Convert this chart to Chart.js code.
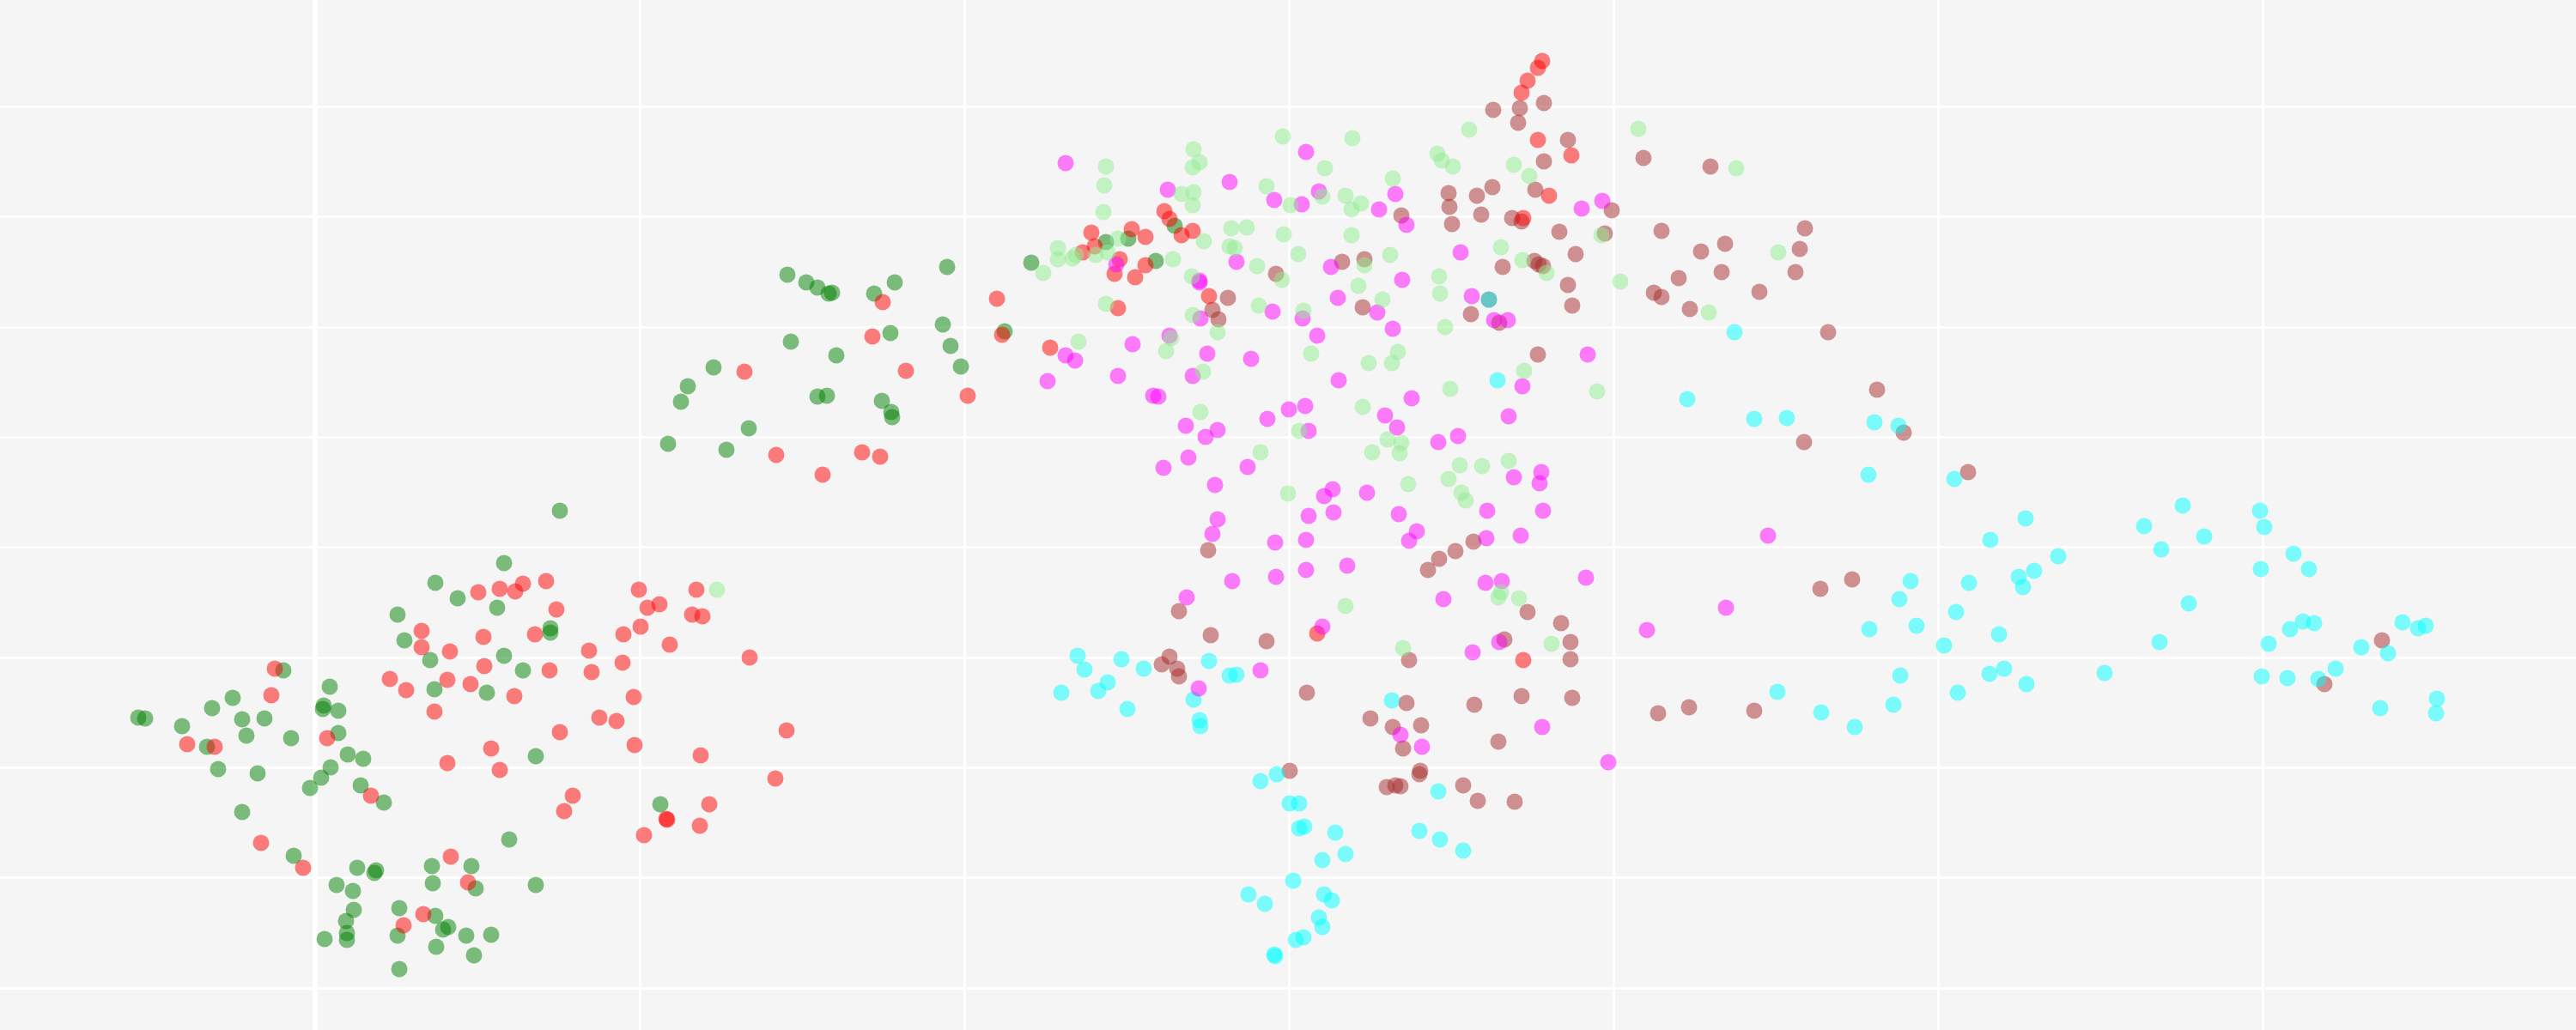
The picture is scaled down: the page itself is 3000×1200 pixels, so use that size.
<!DOCTYPE html>
<html>
<head>
<meta charset="utf-8">
<style>
  html, body { margin: 0; padding: 0; background: #f5f5f5; }
  #wrap { width: 3000px; height: 1200px; }
</style>
<script src="https://cdn.jsdelivr.net/npm/chart.js@4"></script>
</head>
<body>
<div id="wrap"><canvas id="myChart" width="3000" height="1200"></canvas></div>
<script>
const xTicks = [367, 745, 1123, 1501, 1879, 2257, 2635];
const yTicks = [124, 252.5, 381, 509, 637, 766, 894, 1022.5, 1151];

const green = [[652,595],[587,656],[507,679],[533,697],[579,708],[463,716],[641,732],[641,737],[471,746],[587,764],[501,769],[609,781],[330,781],[384,800],[506,803],[567,807],[271,813],[377,822],[376,826],[394,828],[247,825],[161,836],[169,837],[282,838],[308,837],[212,846],[287,857],[339,860],[394,854],[241,870],[624,881],[405,879],[423,884],[254,896],[385,894],[300,901],[374,906],[361,918],[420,915],[447,935],[769,937],[282,946],[593,978],[342,997],[416,1011],[438,1014],[436,1017],[503,1009],[549,1009],[504,1029],[554,1035],[624,1031],[392,1031],[411,1038],[412,1060],[465,1058],[507,1067],[403,1073],[522,1080],[516,1083],[404,1087],[404,1095],[378,1094],[463,1090],[543,1090],[572,1089],[508,1103],[552,1113],[465,1129],
  [917,320],[939,329],[952,335],[965,342],[969,341],[1018,342],[1042,329],[1103,311],[1098,378],[1037,388],[1107,403],[921,398],[974,414],[1119,427],[831,428],[801,450],[793,468],[952,462],[963,461],[1027,467],[1038,480],[1039,486],[872,499],[778,517],[846,524],[1170,386],[1201,306],[1288,282],[1314,278],[1346,304],[1368,263]];

const red = [[320,779],[316,810],[218,867],[250,870],[381,860],[454,791],[473,804],[521,792],[548,797],[599,811],[506,829],[491,735],[491,754],[524,759],[563,742],[564,776],[640,781],[623,739],[648,710],[557,690],[582,686],[600,689],[609,680],[636,677],[744,687],[811,687],[768,704],[754,708],[806,716],[818,718],[746,730],[726,739],[780,751],[686,758],[725,772],[689,783],[873,766],[738,812],[698,836],[718,840],[652,853],[916,851],[739,868],[572,872],[521,889],[582,897],[816,880],[903,907],[667,927],[657,945],[826,937],[776,954],[777,955],[815,962],[750,973],[304,982],[353,1011],[432,927],[525,998],[545,1028],[493,1065],[470,1078],
  [1028,352],[1016,392],[1161,348],[1167,390],[867,433],[1055,432],[1127,461],[1223,405],[904,530],[958,553],[1004,527],[1025,532],
  [1796,71],[1791,79],[1779,94],[1772,108],[1791,163],[1830,181],[1804,228],[1774,254],[1356,246],[1362,255],[1271,271],[1318,267],[1334,276],[1389,269],[1376,274],[1275,287],[1261,294],[1304,302],[1334,309],[1298,319],[1322,323],[1408,345],[1302,359],[1534,738],[1774,769]];

const lightgreen = [[835,687],[1390,174],[1397,189],[1389,195],[1288,194],[1286,216],[1376,226],[1390,224],[1389,239],[1285,247],[1494,159],[1575,161],[1543,196],[1475,217],[1540,229],[1503,239],[1567,228],[1585,237],[1574,244],[1622,208],[1711,151],[1674,179],[1679,187],[1692,194],[1763,192],[1781,205],[1908,150],[2022,196],[1434,266],[1452,265],[1495,273],[1574,274],[1402,281],[1432,287],[1438,289],[1302,278],[1232,289],[1232,302],[1249,301],[1253,297],[1276,297],[1290,294],[1366,302],[1215,318],[1388,322],[1464,310],[1512,296],[1619,297],[1589,309],[1493,326],[1748,288],[1773,303],[1801,318],[1865,274],[2071,294],[1887,328],[1990,364],[1676,322],[1582,333],[1677,342],[1610,349],[1288,354],[1466,356],[1389,367],[1518,362],[1683,381],[1418,387],[1256,398],[1364,394],[1358,409],[1527,412],[1628,410],[1594,423],[1621,423],[1775,432],[1401,433],[1689,453],[1860,456],[1587,474],[1398,480],[1513,502],[1616,512],[1632,516],
  [1468,527],[1598,527],[1630,528],[1700,542],[1726,543],[1757,537],[1687,558],[1640,564],[1500,575],[1702,574],[1707,583],[1748,690],[1745,696],[1769,697],[1567,706],[1807,750],[1634,755]];

const magenta = [[1241,190],[1521,177],[1432,212],[1360,221],[1484,233],[1516,238],[1536,223],[1625,226],[1606,244],[1638,262],[1866,234],[1842,243],[1440,305],[1300,308],[1550,311],[1701,294],[1633,326],[1397,327],[1397,329],[1558,347],[1714,345],[1482,363],[1604,364],[1398,371],[1517,371],[1740,373],[1756,373],[1622,383],[1534,391],[1362,391],[1319,401],[1241,414],[1252,420],[1406,412],[1457,418],[1849,413],[1220,444],[1302,438],[1389,438],[1559,443],[1773,450],[1343,461],[1349,462],[1644,464],[1757,485],[1501,477],[1520,473],[1613,484],[1476,488],[1381,496],[1418,501],[1404,509],[1524,502],[1627,498],[1698,508],[1675,515],
  [1384,533],[1355,545],[1453,544],[1415,565],[1552,570],[1542,578],[1592,574],[1524,601],[1553,597],[1629,599],[1418,605],[1412,622],[1485,632],[1521,629],[1650,619],[1641,630],[1795,550],[1763,556],[1793,563],[1732,595],[1797,595],[1731,627],[1771,624],[1569,659],[1521,664],[1486,672],[1435,677],[1382,696],[1730,679],[1749,677],[1847,673],[1681,698],[1540,730],[1918,734],[1746,748],[1715,760],[1468,781],[1396,802],[1631,856],[1656,870],[1796,847],[1873,888],[2059,624],[2010,708]];

const brown = [[1739,128],[1770,126],[1798,120],[1768,143],[1826,163],[1798,188],[1914,184],[1992,194],[1687,225],[1720,228],[1738,218],[1688,241],[1725,250],[1788,221],[1877,245],[1761,254],[1772,258],[1632,251],[1691,261],[1816,270],[1935,269],[1869,272],[2102,266],[2009,284],[1981,293],[2096,290],[1835,296],[1787,304],[1792,308],[1797,310],[1750,311],[1563,305],[1589,302],[2005,317],[2091,317],[1486,319],[1955,324],[1826,332],[2049,340],[1926,341],[1935,346],[1430,347],[1734,349],[1831,356],[1968,360],[1587,358],[1412,361],[1419,372],[1713,366],[1746,376],[1791,413],
  [1716,631],[1695,642],[1676,651],[1663,664],[1407,641],[1373,712],[1779,713],[1818,726],[1410,740],[1475,747],[1752,745],[1829,748],[1829,768],[1641,769],[1362,765],[1353,774],[1371,779],[1373,788],[1522,807],[1638,819],[1717,821],[1772,811],[1831,813],[1931,831],[1967,824],[1596,837],[1622,847],[1655,845],[1634,872],[1745,864],[1502,898],[1654,898],[1653,902],[1615,917],[1625,915],[1631,916],[1704,915],[1721,933],[1764,934],
  [2129,387],[2186,454],[2101,515],[2217,504],[2292,550],[2157,675],[2120,686],[2043,828],[2774,746],[2707,797]];

const cyan = [[1734,349],[2020,387],[1744,443],[1965,465],[2043,488],[2081,487],
  [1255,764],[1306,768],[1263,780],[1332,779],[1290,795],[1279,805],[1236,807],[1313,826],[1408,770],[1432,787],[1440,786],[1390,815],[1397,839],[1398,846],[1621,816],[1487,902],[1468,910],[1675,922],[1502,936],[1513,936],[1519,963],[1513,965],[1555,970],[1653,968],[1677,978],[1704,991],[1567,995],[1540,1002],[1506,1026],[1454,1042],[1473,1053],[1542,1042],[1551,1049],[1536,1069],[1540,1080],[1518,1092],[1509,1095],[1484,1112],[1485,1114],
  [2183,492],[2211,496],[2176,553],[2276,558],[2359,604],[2318,629],[2397,648],[2369,665],[2351,672],[2356,684],[2293,679],[2225,677],[2212,698],[2278,713],[2232,729],[2177,733],[2328,739],[2264,752],[2213,787],[2317,785],[2334,779],[2360,797],[2280,807],[2205,821],[2070,806],[2121,830],[2160,847],[2451,784],[2497,613],[2542,589],[2567,625],[2517,640],[2549,703],[2515,748],[2632,595],[2637,614],[2671,645],[2633,663],[2689,663],[2682,724],[2695,726],[2667,733],[2642,750],[2798,725],[2825,729],[2816,732],[2750,754],[2781,761],[2634,788],[2664,790],[2700,791],[2720,779],[2772,825],[2838,814],[2837,831]];

function makeSet(points, color) {
  return {
    data: points.map((p) => ({ x: p[0], y: p[1] })),
    backgroundColor: color,
    borderWidth: 0,
    pointRadius: 9.5,
    pointHoverRadius: 9.5,
  };
}

// first dataset is painted last, so this runs top to bottom
new Chart(document.getElementById("myChart"), {
  type: "scatter",
  data: {
    datasets: [
      makeSet(lightgreen, "rgba(144,238,144,0.5)"),
      makeSet(magenta, "rgba(255,0,255,0.5)"),
      makeSet(cyan, "rgba(0,255,255,0.5)"),
      makeSet(red, "rgba(255,0,0,0.5)"),
      makeSet(green, "rgba(0,128,0,0.5)"),
      makeSet(brown, "rgba(165,42,42,0.5)"),
    ],
  },
  options: {
    responsive: false,
    animation: false,
    layout: { padding: 0, autoPadding: false },
    plugins: { legend: { display: false }, tooltip: { enabled: false } },
    scales: {
      x: {
        type: "linear",
        min: 0,
        max: 3000,
        afterBuildTicks: (axis) => { axis.ticks = xTicks.map((v) => ({ value: v })); },
        ticks: { display: false, padding: 0 },
        border: { display: false },
        // the first vertical line is twice as wide in the reference
        grid: { color: "#ffffff", lineWidth: (ctx) => (ctx.index === 0 ? 6 : 3), drawTicks: false, tickLength: 0 },
      },
      y: {
        type: "linear",
        reverse: true,
        min: 0,
        max: 1200,
        afterBuildTicks: (axis) => { axis.ticks = yTicks.map((v) => ({ value: v })); },
        ticks: { display: false, padding: 0 },
        border: { display: false },
        grid: { color: "#ffffff", lineWidth: 3, drawTicks: false, tickLength: 0 },
      },
    },
  },
  plugins: [{
    id: "panelBg",
    beforeDraw: (chart) => {
      chart.ctx.fillStyle = "#f5f5f5";
      chart.ctx.fillRect(0, 0, chart.width, chart.height);
    },
  }],
});
</script>
</body>
</html>
